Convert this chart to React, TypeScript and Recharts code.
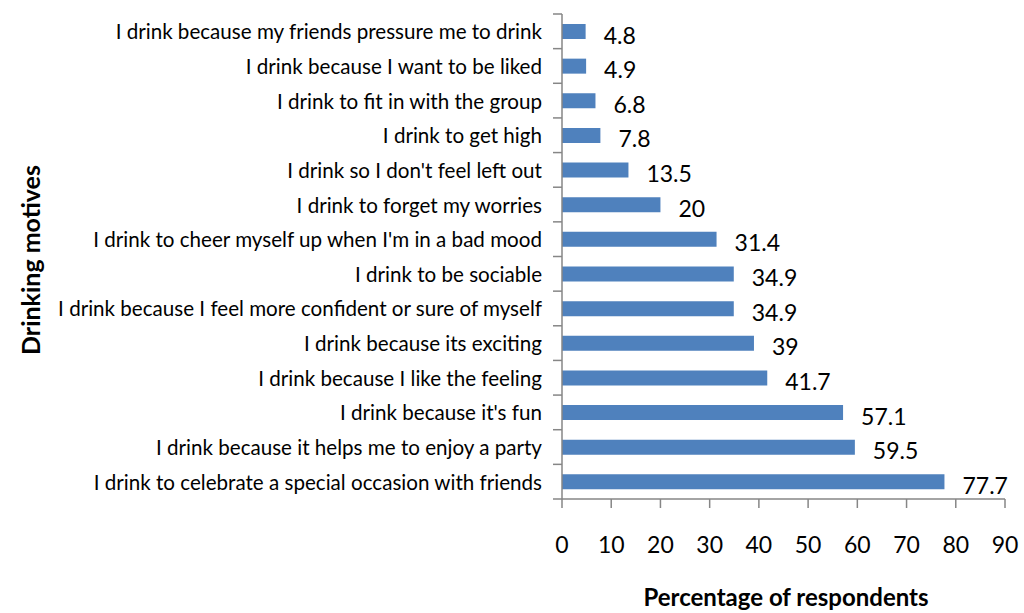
import React from 'react';
import { BarChart, Bar, XAxis, YAxis, LabelList, Label } from 'recharts';

const motives = [
  'I drink because my friends pressure me to drink',
  'I drink because I want to be liked',
  'I drink to fit in with the group',
  'I drink to get high',
  "I drink so I don't feel left out",
  'I drink to forget my worries',
  "I drink to cheer myself up when I'm in a bad mood",
  'I drink to be sociable',
  'I drink because I feel more confident or sure of myself',
  'I drink because its exciting',
  'I drink because I like the feeling',
  "I drink because it's fun",
  'I drink because it helps me to enjoy a party',
  'I drink to celebrate a special occasion with friends',
];
const percentages = [4.8, 4.9, 6.8, 7.8, 13.5, 20, 31.4, 34.9, 34.9, 39, 41.7, 57.1, 59.5, 77.7];
const xTicks = [0, 10, 20, 30, 40, 50, 60, 70, 80, 90];

const data = motives.map((name, i) => ({ name, value: percentages[i] }));

const W = 1024;
const H = 613;
const TOP = 14;
const XAXIS_H = 114;
const YAXIS_W = 562;
const band = (H - TOP - XAXIS_H) / motives.length;
const axisColor = '#868686';
const font = 'Lato, "Liberation Sans", sans-serif';

// excel puts category ticks on the band edges, not the centers
const CategoryTick = (props: any) => {
  const { x, y, payload, index } = props;
  const axisX = YAXIS_W;
  return (
    <g>
      <line x1={axisX - 9} x2={axisX} y1={y - band / 2} y2={y - band / 2} stroke={axisColor} strokeWidth={1.5} />
      {index === motives.length - 1 && (
        <line x1={axisX - 9} x2={axisX} y1={y + band / 2} y2={y + band / 2} stroke={axisColor} strokeWidth={1.5} />
      )}
      <text x={x} y={y} textAnchor="end" dominantBaseline="central" fontSize={20.6} fill="#000" fontFamily={font}>
        {payload.value}
      </text>
    </g>
  );
};

const ValueLabel = (props: any) => {
  const { x, y, width, height, value } = props;
  return (
    <text x={x + width + 18} y={y + height / 2 + 3} dominantBaseline="central" fontSize={23} fill="#000" fontFamily={font}>
      {value}
    </text>
  );
};

export default function App() {
  return (
    <div style={{ position: 'absolute', left: 0, top: 0, background: '#fff' }}>
      <BarChart
        width={W}
        height={H}
        data={data}
        layout="vertical"
        margin={{ top: TOP, right: 19, bottom: 0, left: 0 }}
      >
        <XAxis
          type="number"
          domain={[0, 90]}
          ticks={xTicks}
          height={XAXIS_H}
          tickSize={9}
          tickMargin={29}
          stroke={axisColor}
          strokeWidth={1.5}
          tick={{ fill: '#000', fontSize: 23, fontFamily: font }}
        >
          <Label
            content={() => (
              <text x={786} y={606} textAnchor="middle" fontSize={24} fontWeight="bold" fill="#000" fontFamily={font}>
                Percentage of respondents
              </text>
            )}
          />
        </XAxis>
        <YAxis
          type="category"
          dataKey="name"
          width={YAXIS_W}
          tickSize={9}
          tickMargin={11}
          tickLine={false}
          stroke={axisColor}
          strokeWidth={1.5}
          tick={<CategoryTick />}
          interval={0}
        >
          <Label
            content={() => (
              <text
                x={30}
                y={260}
                transform="rotate(-90 30 260)"
                textAnchor="middle"
                dominantBaseline="central"
                fontSize={25}
                fontWeight="bold"
                fill="#000"
                fontFamily={font}
              >
                Drinking motives
              </text>
            )}
          />
        </YAxis>
        <Bar dataKey="value" fill="#4F81BD" barSize={15} isAnimationActive={false}>
          <LabelList dataKey="value" content={<ValueLabel />} />
        </Bar>
      </BarChart>
    </div>
  );
}
